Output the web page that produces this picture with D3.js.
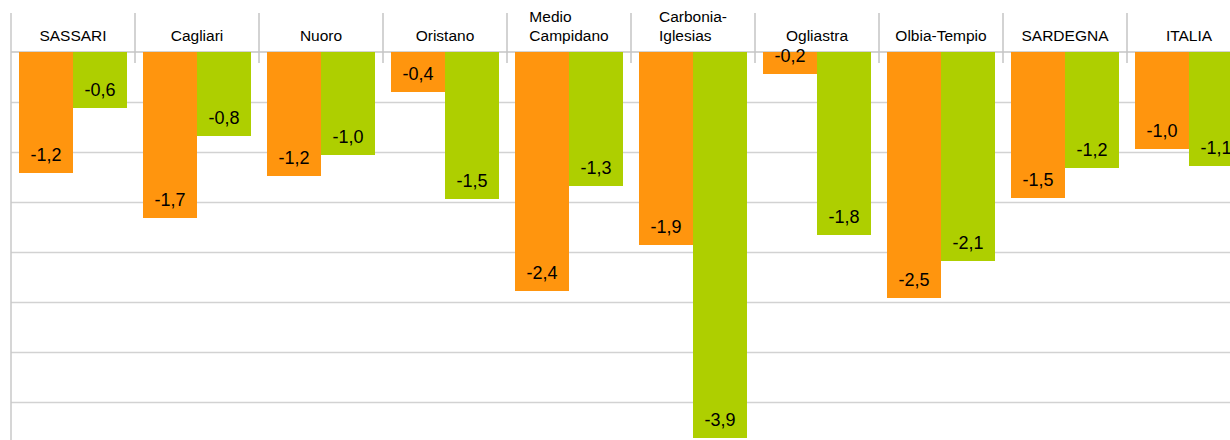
<!DOCTYPE html>
<html>
<head>
<meta charset="utf-8">
<script src="https://cdnjs.cloudflare.com/ajax/libs/d3/7.8.5/d3.min.js"></script>
<style>
  html, body { margin: 0; padding: 0; background: #ffffff; }
  svg { display: block; font-family: "Liberation Sans", Arial, sans-serif; }
</style>
</head>
<body>
<svg id="chart" width="1230" height="440"></svg>
<script>
// ---- data ----
const categories = ["SASSARI", "Cagliari", "Nuoro", "Oristano", "Medio Campidano",
  "Carbonia-Iglesias", "Ogliastra", "Olbia-Tempio", "SARDEGNA", "ITALIA"];
const categoryLines = [["SASSARI"], ["Cagliari"], ["Nuoro"], ["Oristano"], ["Medio", "Campidano"],
  ["Carbonia-", "Iglesias"], ["Ogliastra"], ["Olbia-Tempio"], ["SARDEGNA"], ["ITALIA"]];
const seriesOrange = [-1.21, -1.66, -1.24, -0.40, -2.39, -1.93, -0.22, -2.46, -1.46, -0.97];
const seriesGreen  = [-0.56, -0.84, -1.03, -1.47, -1.34, -3.86, -1.83, -2.09, -1.16, -1.14];
const gridTicks = [-0.5, -1.0, -1.5, -2.0, -2.5, -3.0, -3.5, -4.0];
const seriesColors = ["#ff950e", "#aecf00"];

// ---- layout ----
const W = 1230, H = 440;
const left = 11, step = 124, zeroY = 52;
const svg = d3.select("#chart");

const x = d3.scaleBand().domain(categories).range([left, left + step * categories.length]).padding(0);
const y = d3.scaleLinear().domain([-4, 0]).range([zeroY + 400, zeroY]);
const inner = d3.scaleBand().domain([0, 1]).range([8, step - 8]).padding(0);

// gridlines
const grid = svg.append("g").attr("transform", `translate(${left},0)`)
  .call(d3.axisLeft(y).tickValues(gridTicks).tickSize(-(W - left)).tickFormat(""));
grid.select(".domain").remove();
grid.selectAll(".tick line").attr("stroke", "#d2d2d2").attr("stroke-width", 1.6);

// zero axis line
svg.append("line").attr("x1", left).attr("x2", W).attr("y1", y(0)).attr("y2", y(0))
  .attr("stroke", "#c4c4c4").attr("stroke-width", 1.5);

// left axis line
svg.append("line").attr("x1", left).attr("x2", left).attr("y1", 13).attr("y2", H)
  .attr("stroke", "#c8c8c8").attr("stroke-width", 1.5);

// category separators
svg.append("g").selectAll("line").data(categories).join("line")
  .attr("x1", d => x(d) + x.bandwidth()).attr("x2", d => x(d) + x.bandwidth())
  .attr("y1", 13).attr("y2", 63)
  .attr("stroke", "#c4c4c4").attr("stroke-width", 1.5);

// bars
const rows = categories.map((c, i) => ({ c, vals: [seriesOrange[i], seriesGreen[i]] }));
const groups = svg.append("g").selectAll("g").data(rows).join("g")
  .attr("transform", d => `translate(${x(d.c)},0)`);

groups.selectAll("rect").data(d => d.vals.map((v, k) => ({ v, k }))).join("rect")
  .attr("x", d => inner(d.k))
  .attr("width", inner.bandwidth())
  .attr("y", y(0))
  .attr("height", d => y(d.v) - y(0))
  .attr("fill", d => seriesColors[d.k]);

// value labels
const fmt = v => v.toFixed(1).replace(".", ",");
groups.selectAll("text.val").data(d => d.vals.map((v, k) => ({ v, k }))).join("text")
  .attr("class", "val")
  .attr("x", d => inner(d.k) + inner.bandwidth() / 2)
  .attr("y", d => y(d.v) - 18)
  .attr("dy", "0.35em")
  .attr("text-anchor", "middle")
  .attr("font-size", 18)
  .attr("fill", "#000")
  .text(d => fmt(d.v));

// category labels (multi-line block centered, lines left-aligned)
categoryLines.forEach((lines, i) => {
  const cx = x(categories[i]) + x.bandwidth() / 2;
  const t = svg.append("text").attr("font-size", 15.5).attr("fill", "#000");
  const n = lines.length;
  const spans = lines.map((ln, j) =>
    t.append("tspan").attr("y", 41 - (n - 1 - j) * 19).text(ln));
  const widths = spans.map(s => s.node().getComputedTextLength());
  const maxW = d3.max(widths);
  spans.forEach(s => s.attr("x", cx - maxW / 2));
});
</script>
</body>
</html>
